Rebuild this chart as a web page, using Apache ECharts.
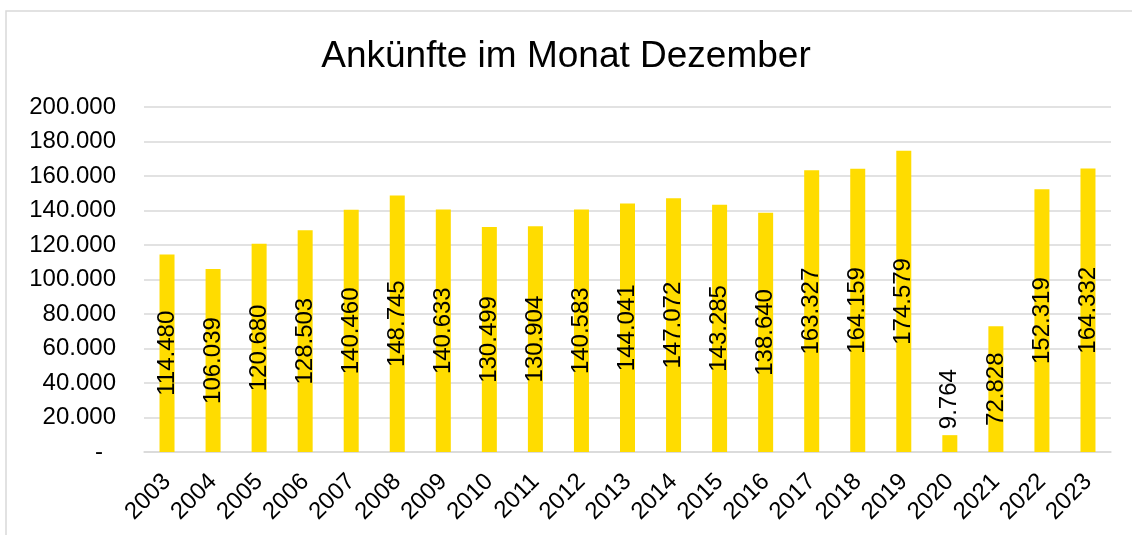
<!DOCTYPE html>
<html>
<head>
<meta charset="utf-8">
<script src="https://cdn.jsdelivr.net/npm/echarts@6/dist/echarts.min.js"></script>
<style>
  html, body { margin: 0; padding: 0; background: #fff; }
  #chart { width: 1132px; height: 535px; }
</style>
</head>
<body>
<div id="chart"></div>
<script>
var years = ['2003', '2004', '2005', '2006', '2007', '2008', '2009', '2010', '2011', '2012',
             '2013', '2014', '2015', '2016', '2017', '2018', '2019', '2020', '2021', '2022', '2023'];
var arrivals = [114480, 106039, 120680, 128503, 140460, 148745, 140633, 130499, 130904, 140583,
                144041, 147072, 143285, 138640, 163327, 164159, 174579, 9764, 72828, 152319, 164332];
var outsideLabel = ['2020'];

var font = '"Liberation Sans", Arial, sans-serif';

function fmt(v) {
    return v.toLocaleString('de-DE');
}

var myChart = echarts.init(document.getElementById('chart'));

var barData = arrivals.map(function (v, i) {
    var item = { value: v };
    if (outsideLabel.indexOf(years[i]) >= 0) {
        item.label = { position: 'top', align: 'left', verticalAlign: 'middle', distance: 6 };
    }
    return item;
});

var option = {
    backgroundColor: '#fff',
    animation: false,
    title: {
        text: 'Ankünfte im Monat Dezember',
        left: 'center',
        top: 33,
        textStyle: { fontFamily: font, fontSize: 37, fontWeight: 'normal', color: '#000' }
    },
    graphic: [{
        type: 'rect',
        shape: { x: 6, y: 11, width: 1200, height: 600 },
        style: { fill: 'none', stroke: '#d9d9d9', lineWidth: 1.5 },
        silent: true
    }],
    grid: { left: 144, right: 21, top: 107, bottom: 83 },
    xAxis: {
        type: 'category',
        data: years,
        axisLine: { lineStyle: { color: '#d9d9d9', width: 1.5 } },
        axisTick: { show: false },
        axisLabel: {
            rotate: 45,
            margin: 26,
            interval: 0,
            fontFamily: font,
            fontSize: 24,
            color: '#000'
        }
    },
    yAxis: {
        type: 'value',
        min: 0,
        max: 200000,
        interval: 20000,
        axisLine: { show: false },
        axisTick: { show: false },
        splitLine: { lineStyle: { color: '#d9d9d9', width: 1.5 } },
        axisLabel: {
            margin: 28,
            fontFamily: font,
            fontSize: 24,
            color: '#000',
            formatter: function (v) {
                return v === 0 ? '{z|-}' : fmt(v);
            },
            rich: {
                z: { fontFamily: font, fontSize: 24, color: '#000', padding: [0, 13, 0, 0] }
            }
        }
    },
    series: [{
        type: 'bar',
        data: barData,
        barWidth: 15,
        itemStyle: { color: '#FFDC00' },
        label: {
            show: true,
            position: 'inside',
            rotate: 90,
            fontFamily: font,
            fontSize: 24,
            color: '#000',
            formatter: function (p) { return fmt(p.value); }
        }
    }]
};

myChart.setOption(option);
</script>
</body>
</html>
